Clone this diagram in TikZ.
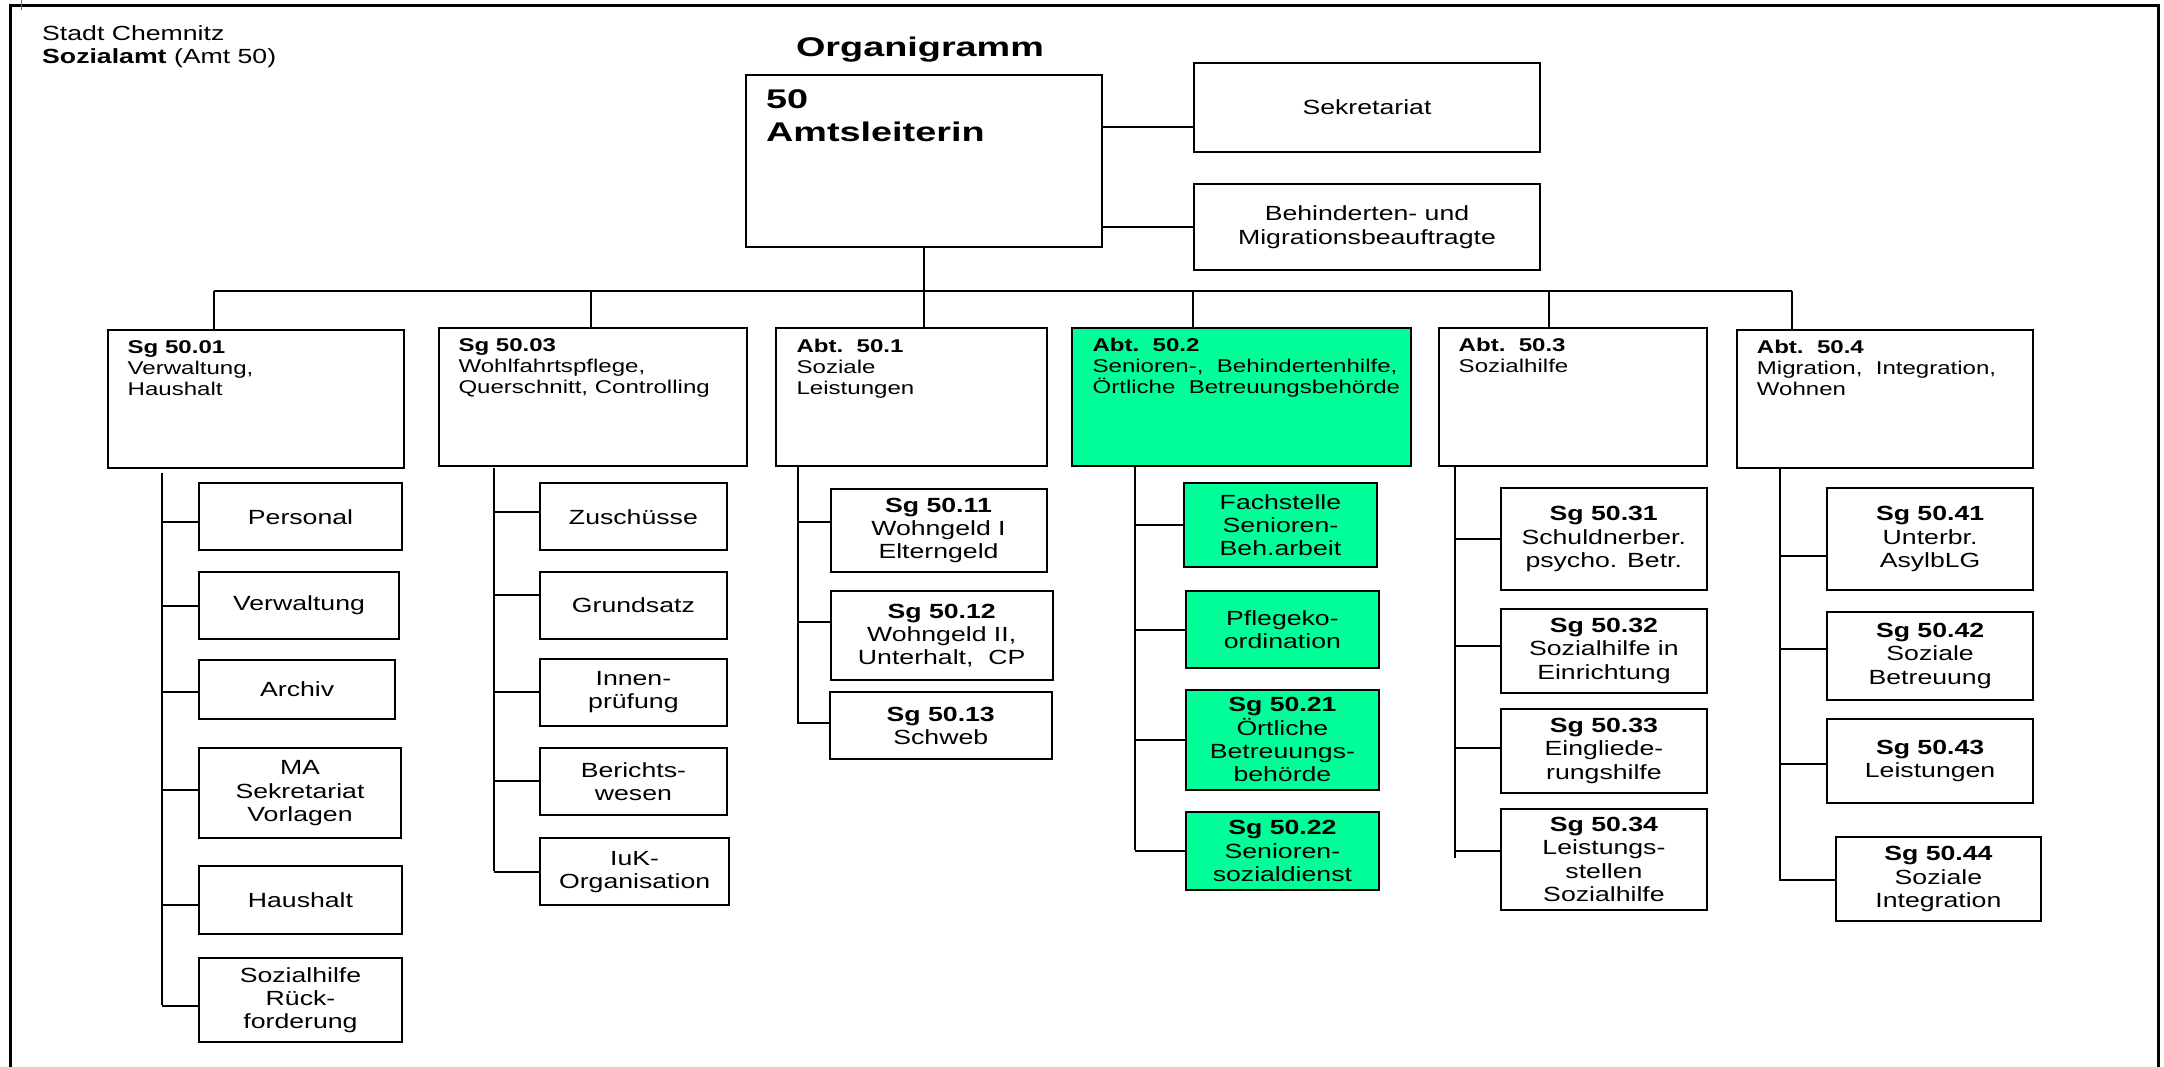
\documentclass[tikz,border=0pt]{standalone}
\usepackage{fontspec}
\setmainfont{Liberation Sans}[FakeStretch=1.3]
\newfontfamily\widefont{Liberation Sans}[FakeStretch=1.4]
\definecolor{mint}{RGB}{0,255,153}
\definecolor{markblue}{RGB}{70,120,200}
\begin{document}
\begin{tikzpicture}[x=1pt,y=-1pt,
  box/.style={draw, line width=2pt, rectangle, inner sep=0pt, anchor=north west, align=center,
              font=\fontsize{20.5}{23.3}\selectfont},
  lvl/.style={anchor=north west, inner sep=0pt, align=left, font=\fontsize{18.5}{21}\selectfont},
  conn/.style={line width=2pt},
  hl/.style={fill=mint}]
\useasboundingbox (0,0) rectangle (2164,1067);
% frame
\draw[line width=2.4pt] (10.5,1067) -- (10.5,5.7) -- (2158.6,5.7) -- (2158.6,1067);
\draw[markblue, line width=1pt] (21,0) -- (21,10);
% header texts
\node[anchor=north west, inner sep=0pt, align=left, font=\fontsize{20.5}{23.3}\selectfont] (city) at (42,25.2)
  {Stadt Chemnitz\\\textbf{Sozialamt} (Amt 50)};
\node[anchor=base, inner sep=0pt, font=\widefont\bfseries\fontsize{27}{32}\selectfont] (title) at (920,57) {Organigramm};
% top boxes
\node[box, minimum width=356pt, minimum height=172pt] (amt) at (745,74.5) {};
\node[anchor=north west, inner sep=0pt, align=left, font=\widefont\bfseries\fontsize{27}{32.7}\selectfont] (amttxt)
  at ([xshift=21pt,yshift=-15pt]amt.north west) {50\\Amtsleiterin};
\node[box, minimum width=346pt, minimum height=89.3pt] (sek) at (1193,61.7) {Sekretariat};
\node[box, minimum width=346pt, minimum height=85.7pt] (beh) at (1193,183.3) {Behinderten- und\\Migrationsbeauftragte};
\draw[conn] ([yshift=-20pt]sek.west) -- ([yshift=-20pt]sek.west -| amt.east);
\draw[conn] (beh.west) -- (beh.west -| amt.east);
% level 2 boxes
\node[box, minimum width=296pt, minimum height=138pt] (sg01) at (107,328.7) {};
\node[box, minimum width=308.2pt, minimum height=138.6pt] (sg03) at (437.8,326.7) {};
\node[box, minimum width=270.1pt, minimum height=138.3pt] (abt1) at (775.4,326.7) {};
\node[box, hl, minimum width=338.4pt, minimum height=138pt] (abt2) at (1071.4,326.7) {};
\node[box, minimum width=268pt, minimum height=138.3pt] (abt3) at (1437.5,326.7) {};
\node[box, minimum width=296.2pt, minimum height=138pt] (abt4) at (1735.7,328.7) {};
\node[lvl] (sg01t) at ([xshift=20.5pt,yshift=-12pt]sg01.north west) {\textbf{Sg 50.01}\\Verwaltung,\\Haushalt};
\node[lvl] (sg03t) at ([xshift=20.5pt,yshift=-12pt]sg03.north west) {\textbf{Sg 50.03}\\Wohlfahrtspflege,\\Querschnitt, Controlling};
\node[lvl] (abt1t) at ([xshift=21pt,yshift=-12.5pt]abt1.north west) {\textbf{Abt.\ \ 50.1}\\Soziale\\Leistungen};
\node[lvl] (abt2t) at ([xshift=21pt,yshift=-11pt]abt2.north west) {\textbf{Abt.\ \ 50.2}\\Senioren-,\ \ Behindertenhilfe,\\Örtliche\ \ Betreuungsbehörde};
\node[lvl] (abt3t) at ([xshift=21pt,yshift=-11pt]abt3.north west) {\textbf{Abt.\ \ 50.3}\\Sozialhilfe};
\node[lvl] (abt4t) at ([xshift=21pt,yshift=-11pt]abt4.north west) {\textbf{Abt.\ \ 50.4}\\Migration,\ \ Integration,\\Wohnen};
% bus
\coordinate (b1) at (214,291);
\coordinate (b2) at (591,291);
\coordinate (b4) at (1193,291);
\coordinate (b5) at (1548.6,291);
\coordinate (b6) at (1792,291);
\draw[conn] (b1) -- (b6);
\draw[conn] (b1) -- (b1 |- sg01.north);
\draw[conn] (b2) -- (b2 |- sg03.north);
\draw[conn] (amt.south) -- (amt.south |- abt1.north);
\draw[conn] (b4) -- (b4 |- abt2.north);
\draw[conn] (b5) -- (b5 |- abt3.north);
\draw[conn] (b6) -- (b6 |- abt4.north);
% Sg 50.01 subs
\node[box, minimum width=203pt, minimum height=67pt] (p1) at (198,482.3) {Personal};
\node[box, minimum width=200pt, minimum height=67.3pt] (p2) at (198,571) {Verwaltung};
\node[box, minimum width=196.4pt, minimum height=59.3pt] (p3) at (198,659) {Archiv};
\node[box, minimum width=202pt, minimum height=90pt] (p4) at (198,747.3) {MA\\Sekretariat\\Vorlagen};
\node[box, minimum width=203pt, minimum height=67.4pt] (p5) at (198,865.3) {Haushalt};
\node[box, minimum width=203pt, minimum height=83.7pt] (p6) at (198,957.3) {Sozialhilfe\\Rück-\\forderung};
\coordinate (t1) at (161.7,472.7); \coordinate (t1e) at (161.7,1005);
\draw[conn] (t1) -- (t1e);
\draw[conn] ([yshift=-5pt]p1.west) -- ([yshift=-5pt]p1.west -| t1);
\draw[conn] (p2.west) -- (p2.west -| t1);
\draw[conn] ([yshift=-2pt]p3.west) -- ([yshift=-2pt]p3.west -| t1);
\draw[conn] ([yshift=3.6pt]p4.west) -- ([yshift=3.6pt]p4.west -| t1);
\draw[conn] ([yshift=-5pt]p5.west) -- ([yshift=-5pt]p5.west -| t1);
\draw[conn] ([yshift=-6pt]p6.west) -- ([yshift=-6pt]p6.west -| t1);
% Sg 50.03 subs
\node[box, minimum width=186.2pt, minimum height=67pt] (q1) at (539.3,482.3) {Zuschüsse};
\node[box, minimum width=186.2pt, minimum height=67.3pt] (q2) at (539.3,571) {Grundsatz};
\node[box, minimum width=186.2pt, minimum height=67pt] (q3) at (539.3,657.7) {Innen-\\prüfung};
\node[box, minimum width=186.2pt, minimum height=67.3pt] (q4) at (539.3,746.7) {Berichts-\\wesen};
\node[box, minimum width=188.7pt, minimum height=67pt] (q5) at (539.3,837.3) {IuK-\\Organisation};
\coordinate (t2) at (494,467.7); \coordinate (t2e) at (494,870.7);
\draw[conn] (t2) -- (t2e);
\draw[conn] ([yshift=5pt]q1.west) -- ([yshift=5pt]q1.west -| t2);
\draw[conn] ([yshift=11pt]q2.west) -- ([yshift=11pt]q2.west -| t2);
\draw[conn] (q3.west) -- (q3.west -| t2);
\draw[conn] (q4.west) -- (q4.west -| t2);
\draw[conn] (q5.west) -- (q5.west -| t2);
% Abt 50.1 subs
\node[box, minimum width=216pt, minimum height=83.3pt] (r1) at (829.5,487.7) {\textbf{Sg 50.11}\\Wohngeld I\\Elterngeld};
\node[box, minimum width=222.3pt, minimum height=88.7pt] (r2) at (829.5,590.3) {\textbf{Sg 50.12}\\Wohngeld II,\\Unterhalt,\ \ CP};
\node[box, minimum width=222.3pt, minimum height=67.3pt] (r3) at (828.6,691) {\textbf{Sg 50.13}\\Schweb};
\coordinate (t3) at (797.8,465); \coordinate (t3e) at (797.8,724);
\draw[conn] (t3) -- (t3e);
\draw[conn] ([yshift=8pt]r1.west) -- ([yshift=8pt]r1.west -| t3);
\draw[conn] ([yshift=14pt]r2.west) -- ([yshift=14pt]r2.west -| t3);
\draw[conn] ([yshift=3pt]r3.west) -- ([yshift=3pt]r3.west -| t3);
% Abt 50.2 subs
\node[box, hl, minimum width=192.9pt, minimum height=83.7pt] (s1) at (1183,482.3) {Fachstelle\\Senioren-\\Beh.arbeit};
\node[box, hl, minimum width=193.2pt, minimum height=76.4pt] (s2) at (1184.8,590.3) {Pflegeko-\\ordination};
\node[box, hl, minimum width=193.2pt, minimum height=100.3pt] (s3) at (1184.8,688.7) {\textbf{Sg 50.21}\\Örtliche\\Betreuungs-\\behörde};
\node[box, hl, minimum width=193.2pt, minimum height=78pt] (s4) at (1184.8,811) {\textbf{Sg 50.22}\\Senioren-\\sozialdienst};
\coordinate (t4) at (1134.8,464.7); \coordinate (t4e) at (1134.8,850);
\draw[conn] (t4) -- (t4e);
\draw[conn] (s1.west) -- (s1.west -| t4);
\draw[conn] (s2.west) -- (s2.west -| t4);
\draw[conn] (s3.west) -- (s3.west -| t4);
\draw[conn] (s4.west) -- (s4.west -| t4);
% Abt 50.3 subs
\node[box, minimum width=205.5pt, minimum height=101.7pt] (u1) at (1500,487.3) {\textbf{Sg 50.31}\\Schuldnerber.\\psycho. Betr.};
\node[box, minimum width=205.1pt, minimum height=84pt] (u2) at (1500.4,607.7) {\textbf{Sg 50.32}\\Sozialhilfe in\\Einrichtung};
\node[box, minimum width=205.1pt, minimum height=84pt] (u3) at (1500.4,707.7) {\textbf{Sg 50.33}\\Eingliede-\\rungshilfe};
\node[box, minimum width=205.1pt, minimum height=100.7pt] (u4) at (1500.4,808) {\textbf{Sg 50.34}\\Leistungs-\\stellen\\Sozialhilfe};
\coordinate (t5) at (1455,465); \coordinate (t5e) at (1455,858.3);
\draw[conn] (t5) -- (t5e);
\draw[conn] (u1.west) -- (u1.west -| t5);
\draw[conn] ([yshift=4.7pt]u2.west) -- ([yshift=4.7pt]u2.west -| t5);
\draw[conn] ([yshift=3pt]u3.west) -- ([yshift=3pt]u3.west -| t5);
\draw[conn] ([yshift=8.3pt]u4.west) -- ([yshift=8.3pt]u4.west -| t5);
% Abt 50.4 subs
\node[box, minimum width=205.6pt, minimum height=102.6pt] (v1) at (1826.3,486.7) {\textbf{Sg 50.41}\\Unterbr.\\AsylbLG};
\node[box, minimum width=205.6pt, minimum height=88pt] (v2) at (1826.3,610.7) {\textbf{Sg 50.42}\\Soziale\\Betreuung};
\node[box, minimum width=205.6pt, minimum height=83.7pt] (v3) at (1826.3,718.3) {\textbf{Sg 50.43}\\Leistungen};
\node[box, minimum width=205.6pt, minimum height=83.7pt] (v4) at (1834.6,836.3) {\textbf{Sg 50.44}\\Soziale\\Integration};
\coordinate (t6) at (1779.5,466.7); \coordinate (t6e) at (1779.5,881);
\draw[conn] (t6) -- (t6e);
\draw[conn] ([yshift=-17pt]v1.west) -- ([yshift=-17pt]v1.west -| t6);
\draw[conn] ([yshift=6.4pt]v2.west) -- ([yshift=6.4pt]v2.west -| t6);
\draw[conn] ([yshift=-3pt]v3.west) -- ([yshift=-3pt]v3.west -| t6);
\draw[conn] ([yshift=-1pt]v4.west) -- ([yshift=-1pt]v4.west -| t6);
\end{tikzpicture}
\end{document}
